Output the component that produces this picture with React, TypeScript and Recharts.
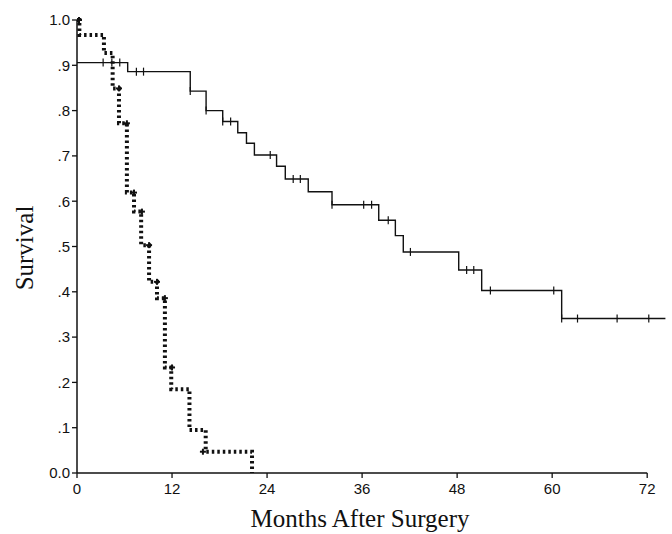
import React from "react";
import {
  ComposedChart,
  Line,
  Scatter,
  XAxis,
  YAxis,
  ReferenceLine,
  Label,
} from "recharts";

// Solid curve (Kaplan-Meier, stepAfter)
const solidTimes = [0, 6.4, 14.3, 16.3, 18.4, 20.3, 21.4, 22.4, 25.2, 26.3, 29.2, 32.2, 38.1, 40.2, 41.2, 48.2, 51.1, 61.2, 74.3];
const solidSurv = [0.906, 0.886, 0.843, 0.8, 0.776, 0.751, 0.728, 0.702, 0.677, 0.649, 0.621, 0.592, 0.558, 0.524, 0.488, 0.448, 0.403, 0.341, 0.341];

// Solid curve censor marks
const solidCensorTimes = [3.3, 4.4, 5.4, 7.5, 8.4, 14.3, 16.3, 18.4, 19.4, 24.4, 27.3, 28.2, 32.2, 36.2, 37.2, 39.3, 42.1, 49.2, 50.1, 52.2, 60.2, 61.2, 63.2, 68.2, 72.2];
const solidCensorSurv = [0.906, 0.906, 0.906, 0.886, 0.886, 0.843, 0.8, 0.776, 0.776, 0.702, 0.649, 0.649, 0.592, 0.592, 0.592, 0.558, 0.488, 0.448, 0.448, 0.403, 0.403, 0.341, 0.341, 0.341, 0.341];

// Dashed curve
const dashedTimes = [0, 0.3, 3.4, 4.5, 5.3, 6.3, 7.2, 8.1, 9.1, 10.1, 11.1, 11.9, 14.2, 16.25, 22.1];
const dashedSurv = [1.0, 0.967, 0.927, 0.849, 0.772, 0.619, 0.577, 0.503, 0.422, 0.386, 0.233, 0.185, 0.095, 0.047, 0];

// Dashed curve censor marks
const dashedCensorTimes = [0.25, 5.3, 6.3, 7.2, 8.2, 9.1, 10.1, 11.1, 12.0, 15.9];
const dashedCensorSurv = [1.0, 0.849, 0.772, 0.619, 0.577, 0.503, 0.422, 0.386, 0.233, 0.047];

const xTicks = [0, 12, 24, 36, 48, 60, 72];
const yTicks = [0, 0.1, 0.2, 0.3, 0.4, 0.5, 0.6, 0.7, 0.8, 0.9, 1.0];
const yTickLabels = ["0.0", ".1", ".2", ".3", ".4", ".5", ".6", ".7", ".8", ".9", "1.0"];

const xTitle = "Months After Surgery";
const yTitle = "Survival";

const zip = (ts: number[], ss: number[]) => ts.map((t, i) => ({ t, s: ss[i] }));
const solidData = zip(solidTimes, solidSurv);
const solidCensor = zip(solidCensorTimes, solidCensorSurv);
const dashedData = zip(dashedTimes, dashedSurv);
const dashedCensor = zip(dashedCensorTimes, dashedCensorSurv);

const INK = "#111";
const tickFont = { fontFamily: "'Liberation Sans', Arial, sans-serif", fontSize: 15, fill: INK };
const titleFont = "'Liberation Serif', 'Times New Roman', serif";

const SolidTick = (p: any) => (
  <line x1={p.cx} x2={p.cx} y1={p.cy - 4} y2={p.cy + 4} stroke={INK} strokeWidth={1.2} />
);
const PlusMark = (p: any) => (
  <g stroke={INK} strokeWidth={2}>
    <line x1={p.cx - 3} x2={p.cx + 3} y1={p.cy} y2={p.cy} />
    <line x1={p.cx} x2={p.cx} y1={p.cy - 3} y2={p.cy + 3} />
  </g>
);

export default function App() {
  return (
    <div style={{ position: "absolute", left: 0, top: 0, background: "#fff" }}>
      <ComposedChart
        width={672}
        height={534}
        margin={{ top: 20, right: 5, bottom: 31, left: 0 }}
      >
        <XAxis
          dataKey="t"
          type="number"
          domain={[0, 74.5]}
          ticks={xTicks}
          allowDataOverflow
          axisLine={false}
          tickLine={{ stroke: INK, strokeWidth: 1.3 }}
          tickSize={5}
          tickMargin={5}
          tick={tickFont}
          height={30}
          interval={0}
        >
          <Label
            content={() => (
              <text x={360} y={527} textAnchor="middle" fontFamily={titleFont} fontSize={25} fill={INK}>
                {xTitle}
              </text>
            )}
          />
        </XAxis>
        <YAxis
          dataKey="s"
          type="number"
          domain={[0, 1]}
          ticks={yTicks}
          interval={0}
          width={77}
          axisLine={{ stroke: INK, strokeWidth: 1.5 }}
          tickLine={{ stroke: INK, strokeWidth: 1.3 }}
          tickSize={5}
          tickMargin={2}
          tick={tickFont}
          tickFormatter={(v: number) => yTickLabels[Math.round(v * 10)]}
        >
          <Label
            content={() => (
              <text
                x={33}
                y={248}
                transform="rotate(-90, 33, 248)"
                textAnchor="middle"
                fontFamily={titleFont}
                fontSize={25}
                fill={INK}
              >
                {yTitle}
              </text>
            )}
          />
        </YAxis>
        <ReferenceLine
          segment={[{ x: 0, y: 0 }, { x: 72, y: 0 }]}
          stroke={INK}
          strokeWidth={1.5}
        />
        <Line
          data={solidData}
          dataKey="s"
          type="stepAfter"
          stroke={INK}
          strokeWidth={1.4}
          dot={false}
          activeDot={false}
          isAnimationActive={false}
        />
        <Line
          data={dashedData}
          dataKey="s"
          type="stepAfter"
          stroke={INK}
          strokeWidth={4}
          strokeDasharray="2.5 3"
          dot={false}
          activeDot={false}
          isAnimationActive={false}
        />
        <Scatter data={solidCensor} dataKey="s" shape={SolidTick} isAnimationActive={false} />
        <Scatter data={dashedCensor} dataKey="s" shape={PlusMark} isAnimationActive={false} />
      </ComposedChart>
    </div>
  );
}
